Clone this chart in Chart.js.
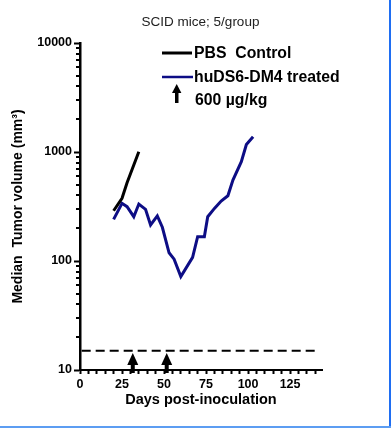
<!DOCTYPE html>
<html><head><meta charset="utf-8">
<script src="https://cdn.jsdelivr.net/npm/chart.js@4"></script>
<style>html,body{margin:0;padding:0;background:#fff;overflow:hidden}</style>
</head><body>
<canvas id="c" width="391" height="428"></canvas>
<script>
const titleText = 'SCID mice; 5/group';
const xTitle = 'Days post-inoculation';
const yTitle = 'Median  Tumor volume (mm³)';
const seriesNames = ['PBS  Control', 'huDS6-DM4 treated'];
const doseLabel = '600 µg/kg';

const pbsDays = [20, 25, 28, 35];
const pbsVolume = [289, 376, 522, 1006];
const adcDays = [20, 25, 28, 32, 35, 39, 42, 46, 49, 53, 56, 60, 67, 70, 74, 76, 80, 84, 88, 91, 96, 99, 103];
const adcVolume = [241, 338, 315, 255, 333, 298, 214, 259, 204, 119, 104, 72, 108, 167, 167, 255, 304, 355, 397, 553, 815, 1170, 1380];
const thresholdDays = [1, 141];
const thresholdVolume = [15, 15];
const doseDays = [31.4, 51.6];

const xTickLabels = [0, 25, 50, 75, 100, 125];
const xMinorTicks = [0,5,10,15,20,25,30,35,40,45,50,55,60,65,70,75,80,85,90,95,100,105,110,115,120,125,130,135,140];
const yTickLabels = [10, 100, 1000, 10000];
const yMinorSteps = [1,2,3,4,5,6,7,8,9];

const BLACK = '#000000';
const NAVY = '#0d0d85';
const FONT = 'Arial, "Liberation Sans", sans-serif';

function pts(xs, ys) { return xs.map((x, i) => ({x: x, y: ys[i]})); }

const decorPlugin = {
  id: 'decor',
  afterDraw(chart) {
    const ctx = chart.ctx;
    const xs = chart.scales.x, ys = chart.scales.y;
    ctx.save();
    ctx.strokeStyle = BLACK; ctx.lineWidth = 2;
    ys.ticks.forEach(t => {
      if (!t.major) {
        const py = Math.round(ys.getPixelForValue(t.value));
        ctx.beginPath(); ctx.moveTo(xs.left - 4, py); ctx.lineTo(xs.left, py); ctx.stroke();
      }
    });
    const base = ys.getPixelForValue(yTickLabels[0]);
    ctx.fillStyle = BLACK;
    doseDays.forEach(d => {
      const px = xs.getPixelForValue(d);
      ctx.fillRect(px - 2, base - 8, 4, 11);
      ctx.beginPath();
      ctx.moveTo(px, base - 17);
      ctx.lineTo(px - 5.5, base - 5);
      ctx.lineTo(px + 5.5, base - 5);
      ctx.closePath(); ctx.fill();
    });
    ctx.lineWidth = 3; ctx.strokeStyle = BLACK;
    ctx.beginPath(); ctx.moveTo(162, 53); ctx.lineTo(192, 53); ctx.stroke();
    ctx.lineWidth = 2.5; ctx.strokeStyle = NAVY;
    ctx.beginPath(); ctx.moveTo(162, 77); ctx.lineTo(193, 77); ctx.stroke();
    ctx.fillStyle = BLACK;
    ctx.fillRect(175, 91, 3.5, 12);
    ctx.beginPath(); ctx.moveTo(176.7, 84); ctx.lineTo(172, 93); ctx.lineTo(181.4, 93); ctx.closePath(); ctx.fill();
    ctx.font = 'bold 15.8px ' + FONT;
    ctx.textBaseline = 'middle'; ctx.textAlign = 'left';
    ctx.fillText(seriesNames[0], 194, 53.5);
    ctx.fillText(seriesNames[1], 194, 77.5);
    ctx.fillText(doseLabel, 195, 100.5);
    ctx.fillStyle = '#1f6ef2';
    ctx.fillRect(389, 0, 2, 428);
    ctx.fillStyle = '#5c9df2';
    ctx.fillRect(0, 426, 391, 2);
    ctx.restore();
  }
};

new Chart(document.getElementById('c'), {
  type: 'line',
  data: {
    datasets: [
      { label: 'threshold', data: pts(thresholdDays, thresholdVolume), borderColor: BLACK, borderWidth: 2, borderDash: [9, 5], pointRadius: 0, fill: false, yAxisID: 'y' },
      { label: seriesNames[0], data: pts(pbsDays, pbsVolume), borderColor: BLACK, borderWidth: 3, pointRadius: 0, tension: 0, fill: false, yAxisID: 'y' },
      { label: seriesNames[1], data: pts(adcDays, adcVolume), borderColor: NAVY, borderWidth: 3, pointRadius: 0, tension: 0, fill: false, yAxisID: 'y' }
    ]
  },
  options: {
    responsive: false,
    devicePixelRatio: 1,
    animation: false,
    layout: { padding: { left: 10, right: 0, top: 0, bottom: 0 } },
    plugins: {
      legend: { display: false },
      tooltip: { enabled: false },
      title: { display: true, text: titleText, color: '#222', font: { family: FONT, size: 13.5, weight: 'normal' }, padding: { top: 14, bottom: 12.8 } }
    },
    scales: {
      x: {
        type: 'linear', position: 'bottom', min: 0, max: 144,
        afterBuildTicks: s => { s.ticks = xMinorTicks.map(v => ({ value: v, major: xTickLabels.includes(v) })); },
        afterFit: s => { s.height = 58; },
        ticks: { autoSkip: false, maxRotation: 0, padding: 3, color: BLACK, font: { family: FONT, size: 12.5, weight: 'bold' },
          callback: v => xTickLabels.includes(v) ? String(v) : '' },
        grid: { display: true, drawOnChartArea: false, drawTicks: true, tickLength: 4, tickWidth: 2, tickColor: BLACK },
        border: { display: true, color: BLACK, width: 2 },
        title: { display: true, text: xTitle, color: BLACK, font: { family: FONT, size: 14.5, weight: 'bold' }, padding: { top: 0, bottom: 19 } }
      },
      y: {
        type: 'logarithmic', position: 'left', min: 10, max: 10000,
        afterBuildTicks: s => {
          const t = [];
          yTickLabels.slice(0, -1).forEach(d => yMinorSteps.forEach(m => t.push({ value: d * m, major: m === 1 })));
          t.push({ value: yTickLabels[yTickLabels.length - 1], major: true });
          s.ticks = t;
        },
        afterFit: s => { s.width = 70; },
        ticks: { autoSkip: false, padding: 2, color: BLACK, font: { family: FONT, size: 12.5, weight: 'bold' },
          callback: v => yTickLabels.includes(v) ? String(v) : '' },
        grid: { display: true, drawOnChartArea: false, drawTicks: true, tickLength: 6, tickWidth: 2,
          tickColor: c => (c.tick && c.tick.major) ? BLACK : 'rgba(0,0,0,0)' },
        border: { display: true, color: BLACK, width: 2.5 },
        title: { display: true, text: yTitle, color: BLACK, font: { family: FONT, size: 14, weight: 'bold' }, padding: { top: 0, bottom: 0 } }
      },
      pad: {
        type: 'linear', position: 'right', display: true,
        afterFit: s => { s.width = 69; },
        ticks: { display: false }, grid: { display: false }, border: { display: false }
      }
    }
  },
  plugins: [decorPlugin]
});
</script>
</body></html>
